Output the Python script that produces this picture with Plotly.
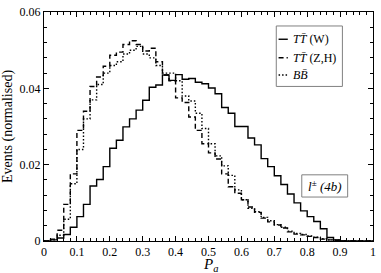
import numpy as np
import plotly.graph_objects as go

# bin lower edges (width 0.02)
bin_edges = [round(i * 0.02, 2) for i in range(51)]

tt_w = [0, 0.0003, 0.0008, 0.0017, 0.0036, 0.0064, 0.0096, 0.0144, 0.0161, 0.0195,
        0.0243, 0.0264, 0.0299, 0.0320, 0.0343, 0.0369, 0.0403, 0.0409, 0.0435, 0.0421,
        0.0436, 0.0424, 0.0426, 0.0416, 0.0412, 0.0401, 0.0386, 0.0350, 0.0335, 0.0300,
        0.0300, 0.0270, 0.0252, 0.0216, 0.0195, 0.0171, 0.0148, 0.0123, 0.0100, 0.0079,
        0.0064, 0.0051, 0.0032, 0.0009, 0.0003, 0, 0, 0, 0, 0]

tt_zh = [0, 0.0005, 0.0028, 0.0096, 0.0176, 0.0290, 0.0340, 0.0405, 0.0430, 0.0458,
         0.0487, 0.0495, 0.0515, 0.0525, 0.0515, 0.0498, 0.0505, 0.0470, 0.0435, 0.0420,
         0.0375, 0.0363, 0.0325, 0.0290, 0.0255, 0.0231, 0.0215, 0.0176, 0.0142, 0.0125,
         0.0108, 0.0089, 0.0075, 0.0060, 0.0050, 0.0042, 0.0034, 0.0024, 0.0018, 0.0016,
         0.0012, 0.0009, 0.0005, 0.0003, 0.0002, 0, 0, 0, 0, 0]

bb = [0, 0.0003, 0.0015, 0.0057, 0.0150, 0.0240, 0.0320, 0.0370, 0.0410, 0.0440,
      0.0460, 0.0470, 0.0490, 0.0500, 0.0510, 0.0490, 0.0480, 0.0460, 0.0440, 0.0440,
      0.0420, 0.0380, 0.0367, 0.0335, 0.0295, 0.0255, 0.0223, 0.0197, 0.0172, 0.0134,
      0.0108, 0.0086, 0.0077, 0.0062, 0.0053, 0.0043, 0.0036, 0.0026, 0.0020, 0.0017,
      0.0013, 0.0010, 0.0006, 0.0003, 0.0002, 0, 0, 0, 0, 0]

x_ticks = [0, 0.1, 0.2, 0.3, 0.4, 0.5, 0.6, 0.7, 0.8, 0.9, 1]
x_ticktext = ["0", "0.1", "0.2", "0.3", "0.4", "0.5", "0.6", "0.7", "0.8", "0.9", "1"]
y_ticks = [0, 0.02, 0.04, 0.06]
y_ticktext = ["0", "0.02", "0.04", "0.06"]

FONT = "Liberation Serif, Times New Roman, serif"

series = [
    (tt_w, "solid"),
    (tt_zh, "5px,3px"),
    (bb, "1.5px,2px"),
]

fig = go.Figure()
for vals, dash in series:
    fig.add_trace(go.Scatter(
        x=bin_edges, y=list(vals) + [vals[-1]],
        mode="lines", line=dict(shape="hv", color="black", width=1.4, dash=dash),
        showlegend=False, hoverinfo="skip", cliponaxis=False))

axis_common = dict(
    showline=True, linecolor="black", linewidth=1, mirror="allticks",
    ticks="inside", ticklen=5, tickwidth=1, tickcolor="black",
    showgrid=False, zeroline=False, ticklabeloverflow="allow",
    tickfont=dict(family=FONT, size=12, color="black"),
)

fig.update_xaxes(range=[0, 1], tickvals=x_ticks, ticktext=x_ticktext,
                 minor=dict(dtick=0.02, ticklen=3, ticks="inside", tickcolor="black"),
                 **axis_common)
fig.update_yaxes(range=[0, 0.06002], tickvals=y_ticks, ticktext=y_ticktext,
                 minor=dict(dtick=0.004, ticklen=3, ticks="inside", tickcolor="black"),
                 title=dict(text="Events (normalised)", font=dict(family=FONT, size=14, color="black"), standoff=5),
                 **axis_common)

# x-axis title
fig.add_annotation(xref="paper", yref="paper", x=0.505, y=-0.055, yanchor="top", xanchor="center",
                   text="<i>P</i><sub><i>a</i></sub>", showarrow=False,
                   font=dict(family=FONT, size=15, color="black"))

# manual legend
lx0, lx1, ly0, ly1 = 0.706, 0.907, 0.675, 0.939
fig.add_shape(type="rect", xref="paper", yref="paper", x0=lx0, x1=lx1, y0=ly0, y1=ly1,
              line=dict(color="#808080", width=1), fillcolor="white", layer="above")
legend_labels = [
    "<i>T</i><i>T\u0304</i> (W)",
    "<i>T</i><i>T\u0304</i> (Z,H)",
    "<i>B</i><i>B\u0304</i>",
]
legend_y = [0.881, 0.800, 0.725]
for (vals, dash), lab, yy in zip(series, legend_labels, legend_y):
    fig.add_shape(type="line", xref="paper", yref="paper", x0=0.713, x1=0.741, y0=yy, y1=yy,
                  line=dict(color="black", width=1.4, dash=dash), layer="above")
    fig.add_annotation(xref="paper", yref="paper", x=0.752, y=yy, text=lab, showarrow=False,
                       xanchor="left", yanchor="middle", font=dict(family=FONT, size=12, color="black"))

# l± (4b) box
fig.add_shape(type="rect", xref="paper", yref="paper", x0=0.7835, x1=0.923, y0=0.192, y1=0.289,
              line=dict(color="#808080", width=1), fillcolor="white", layer="above")
fig.add_annotation(xref="paper", yref="paper", x=0.853, y=0.240,
                   text="<i>l</i><sup>±</sup> <i>(4b)</i>", showarrow=False,
                   xanchor="center", yanchor="middle", font=dict(family=FONT, size=13, color="black"))

fig.update_layout(
    width=381, height=273,
    margin=dict(l=41, r=6, t=5, b=32),
    paper_bgcolor="white", plot_bgcolor="white",
    showlegend=False,
    font=dict(family=FONT, color="black"),
)

fig.write_html("out.html", config={"displayModeBar": False},
               post_script="document.body.style.margin='0';document.body.style.padding='0';")
